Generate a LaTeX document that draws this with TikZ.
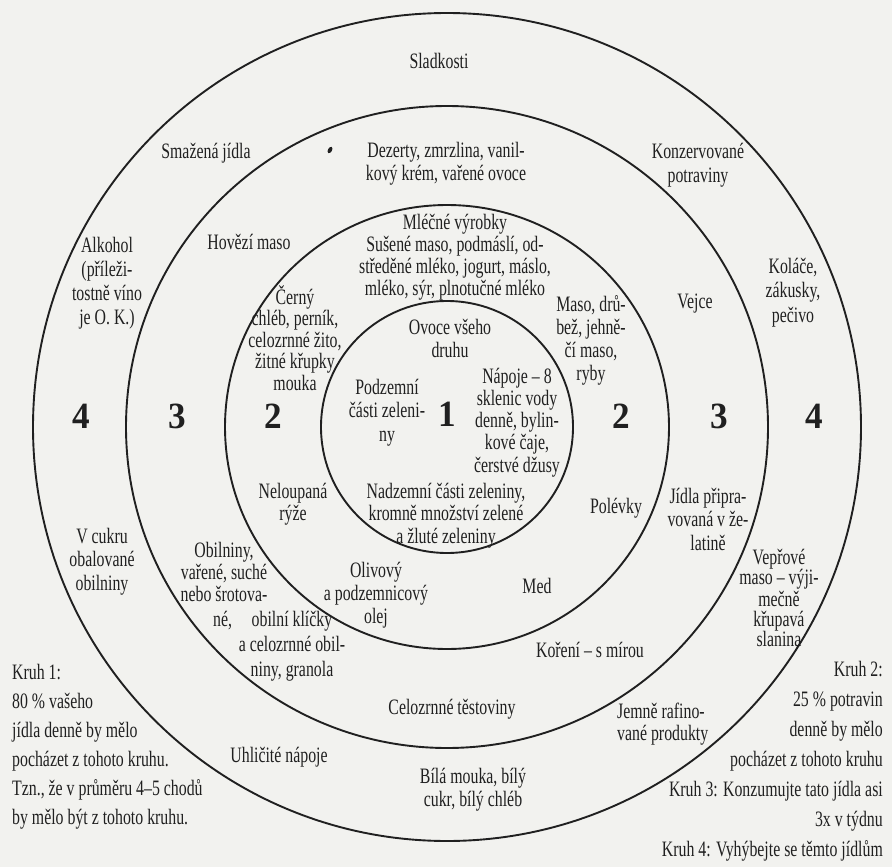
\documentclass[tikz,border=0pt]{standalone}
\usepackage{fontspec}
\setmainfont{Liberation Serif}[FakeStretch=0.72]
\newfontfamily\numfont{Liberation Serif}[FakeStretch=0.95]
\definecolor{bg}{RGB}{242,242,239}
\definecolor{ink}{RGB}{32,32,32}
\begin{document}
\begin{tikzpicture}[x=1pt,y=-1pt,
  ring/.style={circle, draw=ink, line width=1.9pt, inner sep=0pt, outer sep=0pt},
  lbl/.style={font=\fontsize{22}{#1}\selectfont, align=center, inner sep=0pt, anchor=base, text=ink},
  lbl/.default=22,
  lft/.style={font=\fontsize{22}{#1}\selectfont, align=left, inner sep=0pt, anchor=base west, text=ink},
  lft/.default=22,
  rgt/.style={font=\fontsize{22}{#1}\selectfont, align=right, inner sep=0pt, anchor=base east, text=ink},
  rgt/.default=22,
  num/.style={font=\numfont\bfseries\fontsize{37}{37}\selectfont, inner sep=0pt, anchor=base, text=ink}
]
\fill[bg] (0,0) rectangle (892,867);
\useasboundingbox (0,0) rectangle (892,867);

% rings
\node[ring, minimum size=828pt] (c4) at (447,427) {};
\node[ring, minimum size=642pt] (c3) at (447,427) {};
\node[ring, minimum size=444pt] (c2) at (447,427) {};
\node[ring, minimum size=252pt] (c1) at (447,427) {};

% scan speck
\fill[ink, rotate around={60:(330,150)}] (330,150) ellipse [x radius=3.5, y radius=2];

% ring numbers
\node[num] (n4l) at (81,428) {4};
\node[num] (n3l) at (177,428) {3};
\node[num] (n2l) at (273,428) {2};
\node[num] (n1) at (447,426) {1};
\node[num] (n2r) at (621,428) {2};
\node[num] (n3r) at (719,428) {3};
\node[num] (n4r) at (814,428) {4};

% (multi-line nodes are placed by the baseline of their last line)
% ring 4
\node[lbl] (sladkosti) at (439,69) {Sladkosti};
\node[lbl=24] (alkohol) at (107,324) {Alkohol\\(příleži-\\tostně víno\\je O. K.)};
\node[lbl=24.5] (kolace) at (793,322) {Koláče,\\zákusky,\\pečivo};
\node[lbl=23.5] (cukru) at (102,590) {V cukru\\obalované\\obilniny};
\node[lbl=20] (veprove) at (779,646) {Vepřové\\maso – výji-\\mečně\\křupavá\\slanina};
\node[lbl] (uhlicite) at (279,762) {Uhličité nápoje};

% ring 3
\node[lbl] (smazena) at (206,158) {Smažená jídla};
\node[lbl=23] (dezerty) at (446,180) {Dezerty, zmrzlina, vanil-\\kový krém, vařené ovoce};
\node[lbl=24] (konzerv) at (698,182) {Konzervované\\potraviny};
\node[lbl] (hovezi) at (249,249) {Hovězí maso};
\node[lbl] (vejce) at (695,308) {Vejce};
\node[lbl=23.5] (jidla) at (708,550) {Jídla připra-\\vovaná v že-\\latině};
\node[lbl=22] (obilniny) at (224,601) {Obilniny,\\vařené, suché\\nebo šrotova-};
\node[lft] (ne) at (213,626) {né,};
\node[lbl] (koreni) at (590,657) {Koření – s mírou};
\node[lft=22] (jemne) at (617,740) {Jemně rafino-\\vané produkty};
\node[lbl=22.5] (bila) at (473,806) {Bílá mouka, bílý\\cukr, bílý chléb};

% ring 2
\node[lbl=21.7] (mlecne) at (455,295) {Mléčné výrobky\\Sušené maso, podmáslí, od-\\středěné mléko, jogurt, máslo,\\mléko, sýr, plnotučné mléko};
\node[lbl=21.5] (cerny) at (295,390) {Černý\\chléb, perník,\\celozrnné žito,\\žitné křupky\\mouka};
\node[lbl=22.7] (maso) at (591,380) {Maso, drů-\\bež, jehně-\\čí maso,\\ryby};
\node[lbl=22] (neloupana) at (293,520) {Neloupaná\\rýže};
\node[lbl] (polevky) at (616,513) {Polévky};
\node[lbl=23] (olivovy) at (376,623) {Olivový\\a podzemnicový\\olej};
\node[lbl] (med) at (537,593) {Med};
\node[lbl=25] (klicky) at (292,676) {obilní klíčky\\a celozrnné obil-\\niny, granola};
\node[lbl] (testoviny) at (452,714) {Celozrnné těstoviny};

% ring 1
\node[lbl=23] (ovoce) at (450,357) {Ovoce všeho\\druhu};
\node[lbl=23.5] (podzemni) at (387,441) {Podzemní\\části zeleni-\\ny};
\node[lbl=22.2] (napoje) at (517,472) {Nápoje – 8\\sklenic vody\\denně, bylin-\\kové čaje,\\čerstvé džusy};
\node[lbl=22.5] (nadzemni) at (446,543) {Nadzemní části zeleniny,\\kromně množství zelené\\a žluté zeleniny};

% legends
\node[lft=29] (kruh1) at (12,824) {Kruh 1:\\80 \% vašeho\\jídla denně by mělo\\pocházet z tohoto kruhu.\\Tzn., že v průměru 4–5 chodů\\by mělo být z tohoto kruhu.};
\node[rgt=30] (kruh2) at (883,856) {Kruh 2:\\25 \% potravin\\denně by mělo\\pocházet z tohoto kruhu\\Kruh 3: Konzumujte tato jídla asi\\3x v týdnu\\Kruh 4: Vyhýbejte se těmto jídlům};
\end{tikzpicture}
\end{document}
